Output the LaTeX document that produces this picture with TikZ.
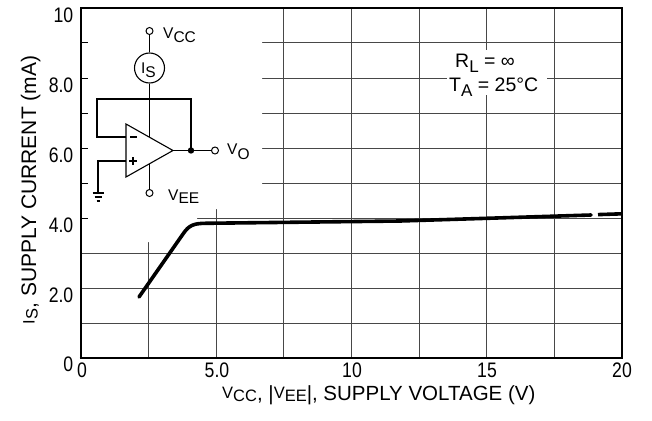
\documentclass[tikz,border=0pt]{standalone}
\usepackage{fontspec}
\setmainfont{Liberation Sans}
\newfontfamily\tickfont{Liberation Sans}[FakeStretch=0.84]
\usetikzlibrary{calc}
\newcommand{\fs}[1]{\fontsize{#1}{#1}\selectfont}
\newcommand{\dn}[2]{\raisebox{-#1pt}{#2}}
\begin{document}
\begin{tikzpicture}[x=1pt,y=-1pt,
  gridline/.style={draw=black!72, line width=1pt},
  wire/.style={line width=1.1pt},
  term/.style={circle, draw, line width=1pt, fill=white, minimum size=7pt, inner sep=0pt},
  ticklbl/.style={font=\tickfont\fs{21}, inner sep=0pt},
  txt/.style={inner sep=0pt, anchor=base west},
  curveline/.style={line width=3.6pt, line cap=round, line join=round},
]
\useasboundingbox (0,0) rectangle (652,420);
% grid
\foreach \x in {148.6,216.2,283.8,351.4,419,486.6,554.2}
  \draw[gridline] (\x,8) -- (\x,358);
\foreach \y in {43,78,113,148,183,218,253,288,323}
  \draw[gridline] (81,\y) -- (621.8,\y);
% blank areas (inset and annotation)
\fill[white] (82.5,9) -- (262,9) -- (262,209) -- (197,209) -- (197,242) -- (82.5,242) -- cycle;
\fill[white] (447,50) rectangle (547,95);
% frame
\draw[line width=1.5pt] (81,8) rectangle (621.8,358);
\draw[line width=2.6pt] (81,7.5) -- (81,359.1);
\draw[line width=2.2pt] (79.7,358) -- (622.7,358);
\draw[line width=1.9pt] (621.8,7.5) -- (621.8,358);
\foreach \y in {43,78,113,148,183,218}
  \draw[line width=1pt] (81,\y) -- (88,\y);
% tick labels
\node[ticklbl, anchor=east] (y10) at (73.5,15.5) {10};
\node[ticklbl, anchor=east] (y8) at (73.5,85) {8.0};
\node[ticklbl, anchor=east] (y6) at (73.5,155) {6.0};
\node[ticklbl, anchor=east] (y4) at (73.5,225) {4.0};
\node[ticklbl, anchor=east] (y2) at (73.5,295) {2.0};
\node[ticklbl, anchor=east] (y0) at (73.5,364) {0};
\node[ticklbl] (x0) at (82,370) {0};
\node[ticklbl] (x5) at (217,370) {5.0};
\node[ticklbl] (x10) at (352,370) {10};
\node[ticklbl] (x15) at (487,370) {15};
\node[ticklbl] (x20) at (622,370) {20};
% axis titles
\node[txt] (xtitle) at (222,400) {\fs{20.5}{\fs{16.5}\raisebox{1.5pt}{V}\dn{1.5}{CC}}, |{\fs{16.5}\raisebox{1.5pt}{V}\dn{1.5}{EE}}|, SUPPLY VOLTAGE (V)};
\node[inner sep=0pt, anchor=base, rotate=90] (ytitle) at (36,190) {\fs{21}{\fs{16.5}\raisebox{1.5pt}{I}\dn{1.5}{S}}, SUPPLY CURRENT (mA)};
% annotation
\node[txt] (rl) at (455,67) {\fs{19.5}R\dn{5}{\fs{17}L} = ∞};
\node[txt] (ta) at (449,91) {\fs{19.5}T\dn{5}{\fs{17}A} = 25°C};
% curve
\draw[curveline] (139,297) -- (183,234) .. controls (189,225) and (194,223.5) .. (205,223.3)
  -- (400,221) -- (487,218.3) -- (591,215);
\draw[line width=3.6pt] (598,214.6) -- (622,213.8);
% circuit
\coordinate (tl) at (126,124);
\coordinate (bl) at (126,177);
\coordinate (ap) at (173,150.5);
\coordinate (up) at ($(tl)!0.5!(ap)$);
\coordinate (lo) at ($(bl)!0.5!(ap)$);
\coordinate (inm) at (126,137);
\coordinate (inp) at (126,161);
\coordinate (fb1) at (97,137);
\coordinate (fb2) at (97,99);
\coordinate (fb3) at (191,99);
\coordinate (outn) at (191,150.5);
\coordinate (gp) at (98,161);
\coordinate (gnd) at (98,193);
\draw[wire, fill=white, line join=miter] (tl) -- (ap) -- (bl) -- cycle;
\node[term] (vcc) at (149.5,31) {};
\node[circle, draw, line width=1.1pt, minimum size=30pt, inner sep=0pt] (is) at (149.5,68) {};
\node[term] (vee) at (149.5,193) {};
\node[term] (vo) at (215,150.5) {};
\draw[wire] (vcc.south) -- (is.north);
\draw[wire] (is.south) -- (up);
\draw[wire] (lo) -- (vee.north);
\draw[wire] (inm) -- (fb1) -- (fb2) -- (fb3) -- (outn);
\draw[wire] (ap) -- (vo.west);
\fill (outn) circle (3.2);
\draw[wire] (inp) -- (gp) -- (gnd);
\draw[wire] (92.5,193) -- (103.5,193);
\draw[wire] (94.5,197) -- (101.5,197);
\draw[wire] (96.5,201) -- (99.5,201);
\draw[wire] (130,137) -- (137,137);
\draw[wire] (129,161) -- (137,161);
\draw[wire] (133,157) -- (133,165);
% circuit labels
\node[inner sep=0pt, anchor=base] (islbl) at (148.5,73) {\fs{15.5}I\dn{4}{S}};
\node[txt] (lvcc) at (163,38.5) {\fs{15.5}V\dn{4.5}{CC}};
\node[txt] (lvo) at (227,154) {\fs{15.5}V\dn{5}{O}};
\node[txt] (lvee) at (168,200) {\fs{15.5}V\dn{3.5}{EE}};
\end{tikzpicture}
\end{document}
